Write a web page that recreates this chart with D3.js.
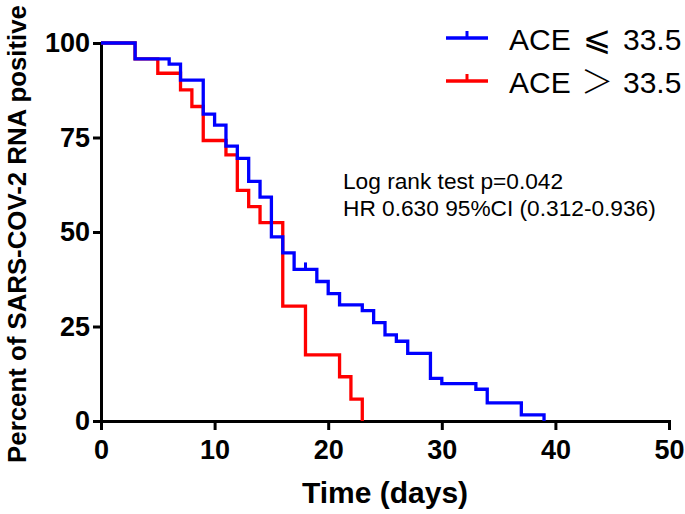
<!DOCTYPE html>
<html>
<head>
<meta charset="utf-8">
<script src="https://cdn.jsdelivr.net/npm/d3@7"></script>
<style>
  html, body { margin: 0; padding: 0; background: #fff; }
  svg { display: block; }
</style>
</head>
<body>
<svg id="chart" width="685" height="514"></svg>
<script>
// ---- data ----
const blueTimes  = [0, 3, 6, 7, 9, 10, 11, 12, 13, 14, 15, 16, 17, 19, 20, 21, 23, 24, 25, 26, 27, 29, 30, 33, 34, 37, 39];
const blueValues = [100, 95.8, 94.4, 90.2, 81.2, 78.3, 72.7, 69.5, 63.4, 59.2, 48.7, 44.5, 40.1, 36.9, 33.7, 30.7, 29.2, 26.0, 22.8, 21.1, 17.9, 11.3, 9.9, 8.4, 4.8, 1.6, 0];
const blueCensored = [18];
const redTimes  = [0, 3, 5, 7, 8, 9, 11, 12, 13, 14, 16, 18, 21, 22, 23];
const redValues = [100, 95.8, 92.0, 87.6, 83.2, 74.2, 70.4, 61.0, 56.7, 52.5, 30.4, 17.5, 11.7, 5.8, 0];
const redCensored = [];
const xTicks = [0, 10, 20, 30, 40, 50];
const yTicks = [0, 25, 50, 75, 100];
const seriesNames = ["ACE", "ACE"];
const seriesSymbols = ["⩽", "＞"];
const seriesCut = ["33.5", "33.5"];
const annotationLines = ["Log rank test p=0.042", "HR 0.630 95%CI (0.312-0.936)"];
const xTitle = "Time (days)";
const yTitle = "Percent of SARS-COV-2 RNA positive";

const svg = d3.select("#chart");
const x = d3.scaleLinear().domain([0, 50]).range([101, 669]);
const y = d3.scaleLinear().domain([0, 100]).range([421, 43]);
const FONT = "'Liberation Sans', Arial, Helvetica, sans-serif";

const series = [
  { t: blueTimes, v: blueValues, c: blueCensored, color: "#0000ff" },
  { t: redTimes,  v: redValues,  c: redCensored,  color: "#ff0000" }
];

const line = d3.line().x(d => x(d[0])).y(d => y(d[1])).curve(d3.curveStepAfter);

function survAt(s, t) {
  let val = s.v[0];
  for (let i = 0; i < s.t.length; i++) if (s.t[i] <= t) val = s.v[i];
  return val;
}

// axes
const yAxis = d3.axisLeft(y).tickValues(yTicks).tickSize(8).tickSizeOuter(0).tickPadding(3);
const xAxis = d3.axisBottom(x).tickValues(xTicks).tickSize(9).tickSizeOuter(0).tickPadding(10);

const gy = svg.append("g").attr("transform", "translate(101,0)").call(yAxis);
const gx = svg.append("g").attr("transform", "translate(0,421)").call(xAxis);
[gx, gy].forEach(g => {
  g.selectAll("path.domain").attr("stroke", "#000").attr("stroke-width", 3).attr("stroke-linecap", "square");
  g.selectAll(".tick line").attr("stroke", "#000").attr("stroke-width", 3);
  g.selectAll(".tick text").attr("fill", "#000").attr("font-family", FONT)
    .attr("font-weight", "bold").attr("font-size", 27);
});

// curves (red under blue)
[series[1], series[0]].forEach(s => {
  const pts = s.t.map((t, i) => [t, s.v[i]]);
  svg.append("path").attr("d", line(pts)).attr("fill", "none")
    .attr("stroke", s.color).attr("stroke-width", 3.3).attr("stroke-linejoin", "miter");
  s.c.forEach(ct => {
    const yy = y(survAt(s, ct));
    svg.append("line").attr("x1", x(ct)).attr("x2", x(ct))
      .attr("y1", yy).attr("y2", yy - 7).attr("stroke", s.color).attr("stroke-width", 3);
  });
});

// legend
const legY = [38, 81];
series.forEach((s, i) => {
  const g = svg.append("g");
  g.append("line").attr("x1", 446).attr("x2", 488).attr("y1", legY[i]).attr("y2", legY[i])
    .attr("stroke", s.color).attr("stroke-width", 3.3);
  g.append("line").attr("x1", 467).attr("x2", 467).attr("y1", legY[i]).attr("y2", legY[i] - 7)
    .attr("stroke", s.color).attr("stroke-width", 3);
  const t = g.append("text").attr("y", legY[i] + 12).attr("font-family", FONT)
    .attr("font-size", 30).attr("fill", "#000");
  t.append("tspan").attr("x", 509).text(seriesNames[i]);
  t.append("tspan").attr("x", 597).attr("text-anchor", "middle")
    .attr("font-size", i === 0 ? 34 : 32)
    .attr("font-family", i === 0 ? "'DejaVu Sans', 'Noto Sans CJK SC', sans-serif" : "'Noto Sans CJK SC', 'DejaVu Sans', sans-serif")
    .attr("font-weight", i === 0 ? "normal" : "200")
    .text(seriesSymbols[i]);
  t.append("tspan").attr("x", 623).text(seriesCut[i]);
});

// annotation
annotationLines.forEach((txt, i) => {
  svg.append("text").attr("x", 343).attr("y", 189 + i * 27)
    .attr("font-family", FONT).attr("font-size", 22.7).attr("fill", "#000").text(txt);
});

// axis titles
svg.append("text").attr("x", 385).attr("y", 503).attr("text-anchor", "middle")
  .attr("font-family", FONT).attr("font-weight", "bold").attr("font-size", 30).text(xTitle);
svg.append("text").attr("transform", "translate(26,234) rotate(-90)").attr("text-anchor", "middle")
  .attr("font-family", FONT).attr("font-weight", "bold").attr("font-size", 25.8).text(yTitle);
</script>
</body>
</html>
